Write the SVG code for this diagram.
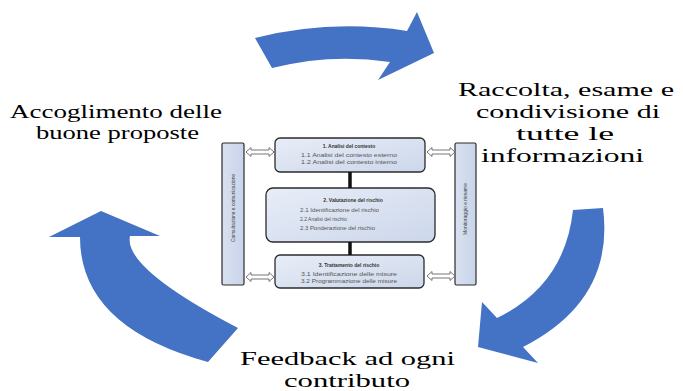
<svg xmlns="http://www.w3.org/2000/svg" width="683" height="391" viewBox="0 0 683 391">
<style>
.big{font-family:"Liberation Serif","DejaVu Serif",serif;font-size:19px;fill:#000}
.bigarrow{fill:#4472C4}
.box{fill:url(#bg);stroke:#2b2b2b;stroke-width:1.3}
.bar{fill:url(#bg2);stroke:#2b2b2b;stroke-width:1.2}
.t{font-family:"Liberation Sans","DejaVu Sans",sans-serif;font-size:5px;fill:#555}
.tb{font-family:"Liberation Sans","DejaVu Sans",sans-serif;font-size:5px;font-weight:bold;fill:#333}
.tv{font-family:"Liberation Sans","DejaVu Sans",sans-serif;font-size:5px;fill:#444}
.dbl{fill:#fff;stroke:#666;stroke-width:0.9}
.conn{stroke:#111;stroke-width:3.5}
</style>
<defs>
<linearGradient id="bg" x1="0" y1="0" x2="1" y2="1">
<stop offset="0" stop-color="#E8EDF7"/>
<stop offset="1" stop-color="#CCD7EB"/>
</linearGradient>
<linearGradient id="bg2" x1="0" y1="0" x2="1" y2="0">
<stop offset="0" stop-color="#D9E1F0"/>
<stop offset="1" stop-color="#C9D4EA"/>
</linearGradient>
<path id="dbl" d="M-14,0 L-9,-4.5 L-9,-2 L9,-2 L9,-4.5 L14,0 L9,4.5 L9,2 L-9,2 L-9,4.5 Z"/>
</defs>

<g id="cycle-arrows">
<path id="arrow-top" class="bigarrow" d="M255,38 Q331,19 407,31 L417,12 L434,53 L378,80 L390,62 Q331,53 272,68 Z"/>
<path id="arrow-right" class="bigarrow" d="M573,210 Q565,285 497,318 L482,302 L478,347 L538,363 L523,347 Q615,300 603,208 Z"/>
<path id="arrow-left" class="bigarrow" d="M238,328 Q123,268 130,236 L160,236 L101,211 L49,237 L80,237 Q80,327 208,362 Z"/>
</g>

<g id="label-accoglimento">
<text class="big" x="10" y="118" textLength="212" lengthAdjust="spacingAndGlyphs">Accoglimento delle</text>
<text class="big" x="36" y="139" textLength="163" lengthAdjust="spacingAndGlyphs">buone proposte</text>
</g>
<g id="label-raccolta">
<text class="big" x="458" y="96" textLength="216" lengthAdjust="spacingAndGlyphs">Raccolta, esame  e</text>
<text class="big" x="476" y="118" textLength="184" lengthAdjust="spacingAndGlyphs">condivisione di</text>
<text class="big" x="516" y="140" textLength="98" lengthAdjust="spacingAndGlyphs">tutte le</text>
<text class="big" x="481" y="162" textLength="163" lengthAdjust="spacingAndGlyphs">informazioni</text>
</g>
<g id="label-feedback">
<text class="big" x="240" y="365" textLength="215" lengthAdjust="spacingAndGlyphs">Feedback ad ogni</text>
<text class="big" x="284" y="387" textLength="126" lengthAdjust="spacingAndGlyphs">contributo</text>
</g>

<g id="bar-consultazione">
<rect class="bar" x="222" y="143" width="22" height="142" rx="1.5"/>
<text class="tv" transform="translate(235,208) rotate(-90)" text-anchor="middle" textLength="68" lengthAdjust="spacingAndGlyphs">Consultazione e comunicazione</text>
</g>
<g id="bar-monitoraggio">
<rect class="bar" x="455" y="143" width="21" height="142" rx="1.5"/>
<text class="tv" transform="translate(467,209) rotate(-90)" text-anchor="middle" textLength="52" lengthAdjust="spacingAndGlyphs">Monitoraggio e riesame</text>
</g>

<g id="box-1">
<rect class="box" x="275" y="138" width="150" height="34" rx="5"/>
<text class="tb" x="349" y="148" text-anchor="middle">1. Analisi del contesto</text>
<text class="t" x="349" y="157" text-anchor="middle" textLength="96" lengthAdjust="spacingAndGlyphs">1.1 Analisi del contesto esterno</text>
<text class="t" x="349" y="164" text-anchor="middle" textLength="96" lengthAdjust="spacingAndGlyphs">1.2 Analisi del contesto interno</text>
</g>
<g id="box-2">
<rect class="box" x="266" y="188" width="169" height="54" rx="7"/>
<text class="tb" x="353" y="202" text-anchor="middle">2. Valutazione del rischio</text>
<text class="t" x="300" y="212" textLength="79" lengthAdjust="spacingAndGlyphs">2.1 Identificazione del rischio</text>
<text class="t" x="300" y="221">2.2 Analisi del rischio</text>
<text class="t" x="300" y="230" textLength="75" lengthAdjust="spacingAndGlyphs">2.3 Ponderazione del rischio</text>
</g>
<g id="box-3">
<rect class="box" x="275" y="255" width="149" height="33" rx="5"/>
<text class="tb" x="349" y="267" text-anchor="middle">3. Trattamento del rischio</text>
<text class="t" x="349" y="276" text-anchor="middle" textLength="96" lengthAdjust="spacingAndGlyphs">3.1 Identificazione delle misure</text>
<text class="t" x="349" y="283" text-anchor="middle" textLength="96" lengthAdjust="spacingAndGlyphs">3.2 Programmazione delle misure</text>
</g>

<g id="connectors">
<line class="conn" x1="350" y1="172" x2="350" y2="188"/>
<line class="conn" x1="350" y1="242" x2="350" y2="255"/>
<use href="#dbl" class="dbl" x="260" y="152"/>
<use href="#dbl" class="dbl" x="260" y="277"/>
<use href="#dbl" class="dbl" x="441" y="152"/>
<use href="#dbl" class="dbl" x="441" y="276"/>
</g>
</svg>
